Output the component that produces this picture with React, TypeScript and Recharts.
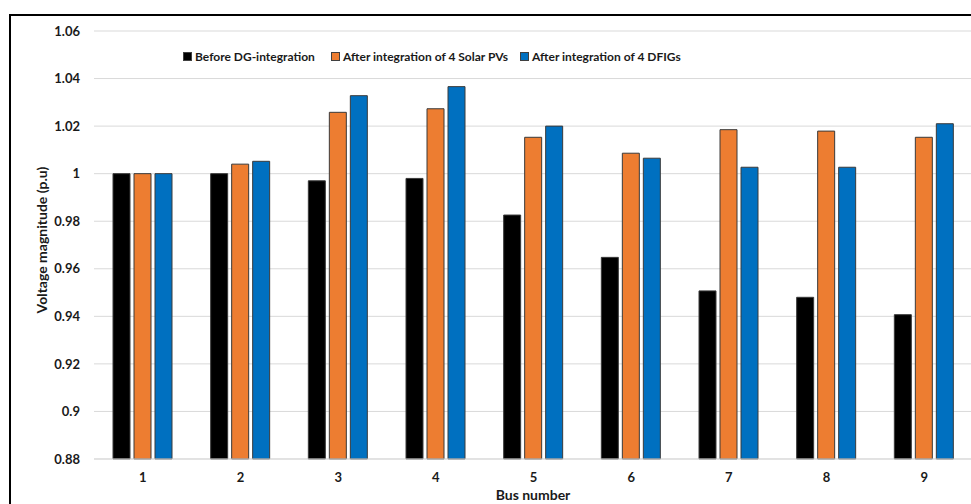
import { Bar, BarChart, CartesianGrid, XAxis, YAxis } from "recharts"

const buses = ["1", "2", "3", "4", "5", "6", "7", "8", "9"]
const beforeDG = [1.0, 1.0, 0.997, 0.998, 0.9826, 0.9648, 0.9507, 0.948, 0.9407]
const solarPV = [1.0, 1.004, 1.0258, 1.0273, 1.0153, 1.0086, 1.0185, 1.0179, 1.0153]
const dfig = [1.0, 1.0052, 1.0328, 1.0366, 1.02, 1.0065, 1.0027, 1.0027, 1.021]
const yTicks = [0.88, 0.9, 0.92, 0.94, 0.96, 0.98, 1.0, 1.02, 1.04, 1.06]

const series = [
  { key: "before", name: "Before DG-integration", color: "#000000" },
  { key: "solar", name: "After integration of 4 Solar PVs", color: "#ED7D31" },
  { key: "dfig", name: "After integration of 4 DFIGs", color: "#0070C0" },
]

const data = buses.map((bus, i) => ({
  bus,
  before: beforeDG[i],
  solar: solarPV[i],
  dfig: dfig[i],
}))

const font = "Lato, 'Open Sans', sans-serif"
const textColor = "#1a1a1a"

function LegendBox() {
  const lefts = [183, 331, 520]
  return (
    <>
      {series.map((s, i) => (
        <div
          key={s.key}
          style={{
            position: "absolute",
            left: lefts[i],
            top: 49,
            display: "flex",
            alignItems: "center",
            fontFamily: font,
            fontWeight: 700,
            fontSize: 12,
            color: textColor,
            whiteSpace: "nowrap",
          }}
        >
          <span
            style={{
              display: "inline-block",
              width: 7,
              height: 7,
              background: s.color,
              border: "1px solid #404040",
              marginRight: 3,
            }}
          />
          {s.name}
        </div>
      ))}
    </>
  )
}

export default function App() {
  const titleStyle = {
    position: "absolute" as const,
    fontFamily: font,
    fontWeight: 700,
    fontSize: 14,
    color: textColor,
    whiteSpace: "nowrap" as const,
    lineHeight: "16px",
  }
  return (
    <div
      style={{
        position: "fixed",
        left: 0,
        top: 0,
        width: 971,
        height: 504,
        overflow: "hidden",
        background: "#fff",
      }}
    >
      <div
        style={{
          position: "absolute",
          left: 9,
          top: 14,
          width: 1000,
          height: 520,
          border: "2px solid #000",
        }}
      />
      <BarChart
        width={990}
        height={520}
        data={data}
        margin={{ top: 31, right: 17, left: 24, bottom: 31 }}
        barSize={17}
        barGap={4}
        style={{ position: "absolute", left: 0, top: 0 }}
      >
        <CartesianGrid vertical={false} stroke="#d9d9d9" />
        <XAxis
          dataKey="bus"
          tickLine={false}
          axisLine={{ stroke: "#d9d9d9" }}
          height={30}
          tick={{ fill: textColor, fontSize: 13, fontWeight: 700, fontFamily: font }}
          tickMargin={8}
        />
        <YAxis
          width={70}
          domain={[0.88, 1.06]}
          ticks={yTicks}
          interval={0}
          axisLine={false}
          tickLine={false}
          tickFormatter={(v: number) => String(Number(v.toFixed(2)))}
          tick={{ fill: textColor, fontSize: 13, fontWeight: 700, fontFamily: font }}
          tickMargin={8}
        />
        {series.map((s) => (
          <Bar
            key={s.key}
            dataKey={s.key}
            name={s.name}
            fill={s.color}
            stroke="#3a3a3a"
            strokeWidth={1}
            isAnimationActive={false}
          />
        ))}
      </BarChart>
      <LegendBox />
      <div
        style={{
          ...titleStyle,
          left: 42,
          top: 240,
          transform: "translate(-50%, -50%) rotate(-90deg)",
        }}
      >
        Voltage magnitude (p.u)
      </div>
      <div
        style={{
          ...titleStyle,
          left: 533,
          top: 495,
          transform: "translate(-50%, -50%)",
        }}
      >
        Bus number
      </div>
    </div>
  )
}
